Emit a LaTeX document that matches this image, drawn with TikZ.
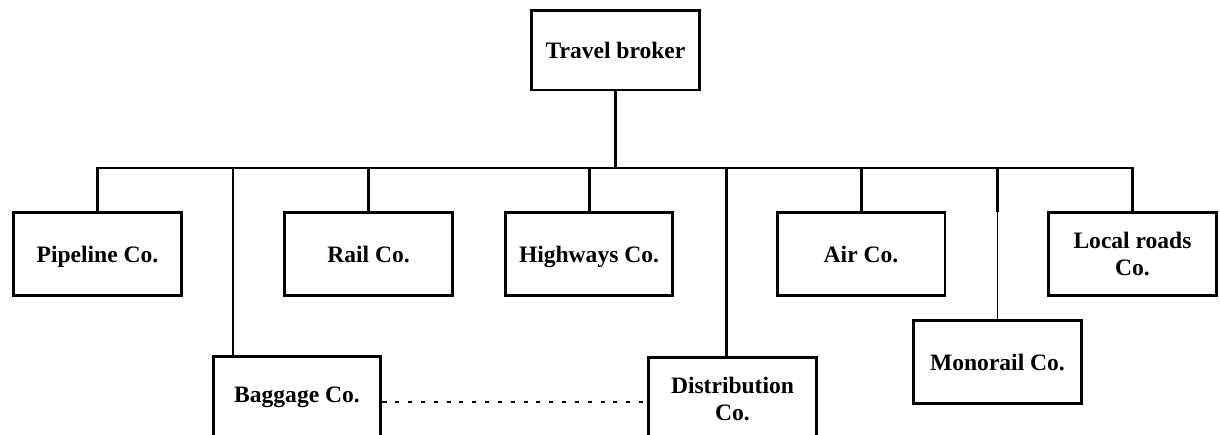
\documentclass[tikz,border=0pt]{standalone}
\usepackage{fontspec}
\setmainfont{Liberation Serif}
\usepackage{tikz}
\usetikzlibrary{calc,positioning}

\begin{document}
\begin{tikzpicture}[x=0.02cm, y=0.02cm]
\tikzstyle{main}=[rectangle, draw=black, line width=1.7pt, minimum width=3.36cm, minimum height=1.66cm, align=center, text height=2.3ex, text depth=0.3ex, font=\fontsize{13.4}{15.5}\selectfont\bfseries]
\tikzstyle{twoline}=[main, text height={}, text depth={}]
\tikzstyle{top}=[main, minimum height=1.6cm]
\tikzstyle{link}=[line width=1.7pt]
\tikzstyle{thinlink}=[line width=0.6pt]
\tikzstyle{dashlink}=[line width=0.6pt, dash pattern=on 2.3pt off 5pt]

  \useasboundingbox (0,0) rectangle (1220,434);
  \clip (0,0) rectangle (1220,434);

  \node[top]     (broker)    at (615.5,384)  {Travel broker};

  \node[main]    (pipeline)  at (97.5,180)   {Pipeline Co.};
  \node[main]    (rail)      at (368.5,180)  {Rail Co.};
  \node[main]    (highways)  at (589,180)    {Highways Co.};
  \node[main]    (air)       at (861,180)    {Air Co.};
  \node[twoline] (local)     at (1132.5,180) {Local roads\\Co.};

  \node[main]    (monorail)  at (997.5,72)   {Monorail Co.};
  \node[main, text depth=1.2ex] (baggage) at (297,36) {Baggage Co.};
  \node[twoline] (distrib)   at (732.5,35)   {Distribution\\Co.};

  \coordinate (bus)       at (615.5,266);
  \coordinate (monojoint) at (997.5,222);

  % tree
  \draw[link] (broker.south) -- (bus);
  \draw[link] (pipeline.north) |- (bus) -| (local.north);
  \draw[link] (rail.north) -- (rail.north |- bus);
  \draw[link] (highways.north) -- (highways.north |- bus);
  \draw[link] (air.north) -- (air.north |- bus);
  \draw[link] (baggage.north -| 233,0) -- (233,0 |- bus);
  \draw[link] (distrib.north -| 726,0) -- (726,0 |- bus);
  \draw[link] (monojoint |- bus) -- (monojoint);
  \draw[thinlink] (monojoint) -- (monorail.north);

  \draw[dashlink] ([yshift=-0.08cm]baggage.east) coordinate (dashstart) -- (dashstart -| distrib.west);

\end{tikzpicture}
\end{document}
